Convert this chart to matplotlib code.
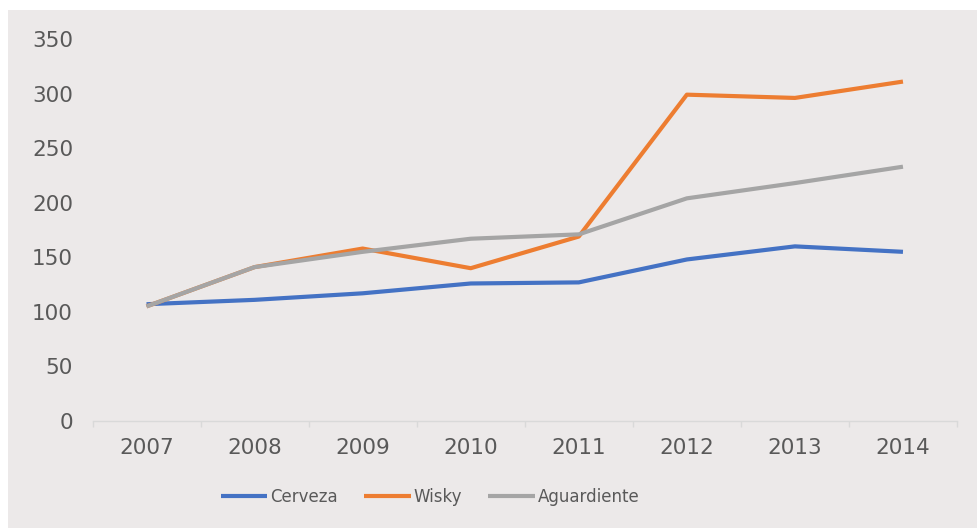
import matplotlib.pyplot as plt
from matplotlib.patches import Rectangle

years = ["2007", "2008", "2009", "2010", "2011", "2012", "2013", "2014"]
cerveza = [107, 111, 117, 126, 127, 148, 160, 155]
wisky = [105, 141, 158, 140, 169, 299, 296, 311]
aguardiente = [105, 141, 155, 167, 171, 204, 218, 233]

series = [("Cerveza", cerveza, "#4472C4"),
          ("Wisky", wisky, "#ED7D31"),
          ("Aguardiente", aguardiente, "#A5A5A5")]

bg = "#ECE9E9"
txt = "#595959"

fig = plt.figure(figsize=(9.78, 5.28), dpi=100, facecolor="white")
# grey panel behind the chart, leaving a thin white margin top/left
fig.patches.append(Rectangle((8 / 978, 0), 1, 1 - 10 / 528, transform=fig.transFigure,
                             facecolor=bg, edgecolor="none", zorder=-10))

ax = fig.add_axes([92.5 / 978, 1 - 421 / 528, 864.5 / 978, 382 / 528])
ax.set_facecolor("none")
ax.set_zorder(1)

x = list(range(len(years)))
for name, vals, col in series:
    ax.plot(x, vals, color=col, lw=3, label=name, solid_capstyle="butt")

ax.set_xlim(-0.5, len(years) - 0.5)
ax.set_ylim(0, 350)
ax.set_yticks(range(0, 351, 50))
ax.set_xticks(x)
ax.set_xticklabels(years)
ax.set_xticks([i - 0.5 for i in range(len(years) + 1)], minor=True)

for s in ["top", "right", "left"]:
    ax.spines[s].set_visible(False)
ax.spines["bottom"].set_color("#D9D9D9")
ax.spines["bottom"].set_linewidth(1)

ax.tick_params(axis="y", length=0, labelsize=15.5, labelcolor=txt, pad=14)
ax.tick_params(axis="x", which="major", length=0, labelsize=15.5, labelcolor=txt, pad=12)
ax.tick_params(axis="x", which="minor", length=4, color="#D9D9D9", width=1)

leg = fig.legend(loc="center", bbox_to_anchor=(430 / 978, 1 - 497 / 528), ncol=3,
                 frameon=False, handlelength=2.8, handletextpad=0.15,
                 columnspacing=1.6, fontsize=12)
for t in leg.get_texts():
    t.set_color(txt)

fig.savefig("out.png", dpi=100, facecolor=fig.get_facecolor())
